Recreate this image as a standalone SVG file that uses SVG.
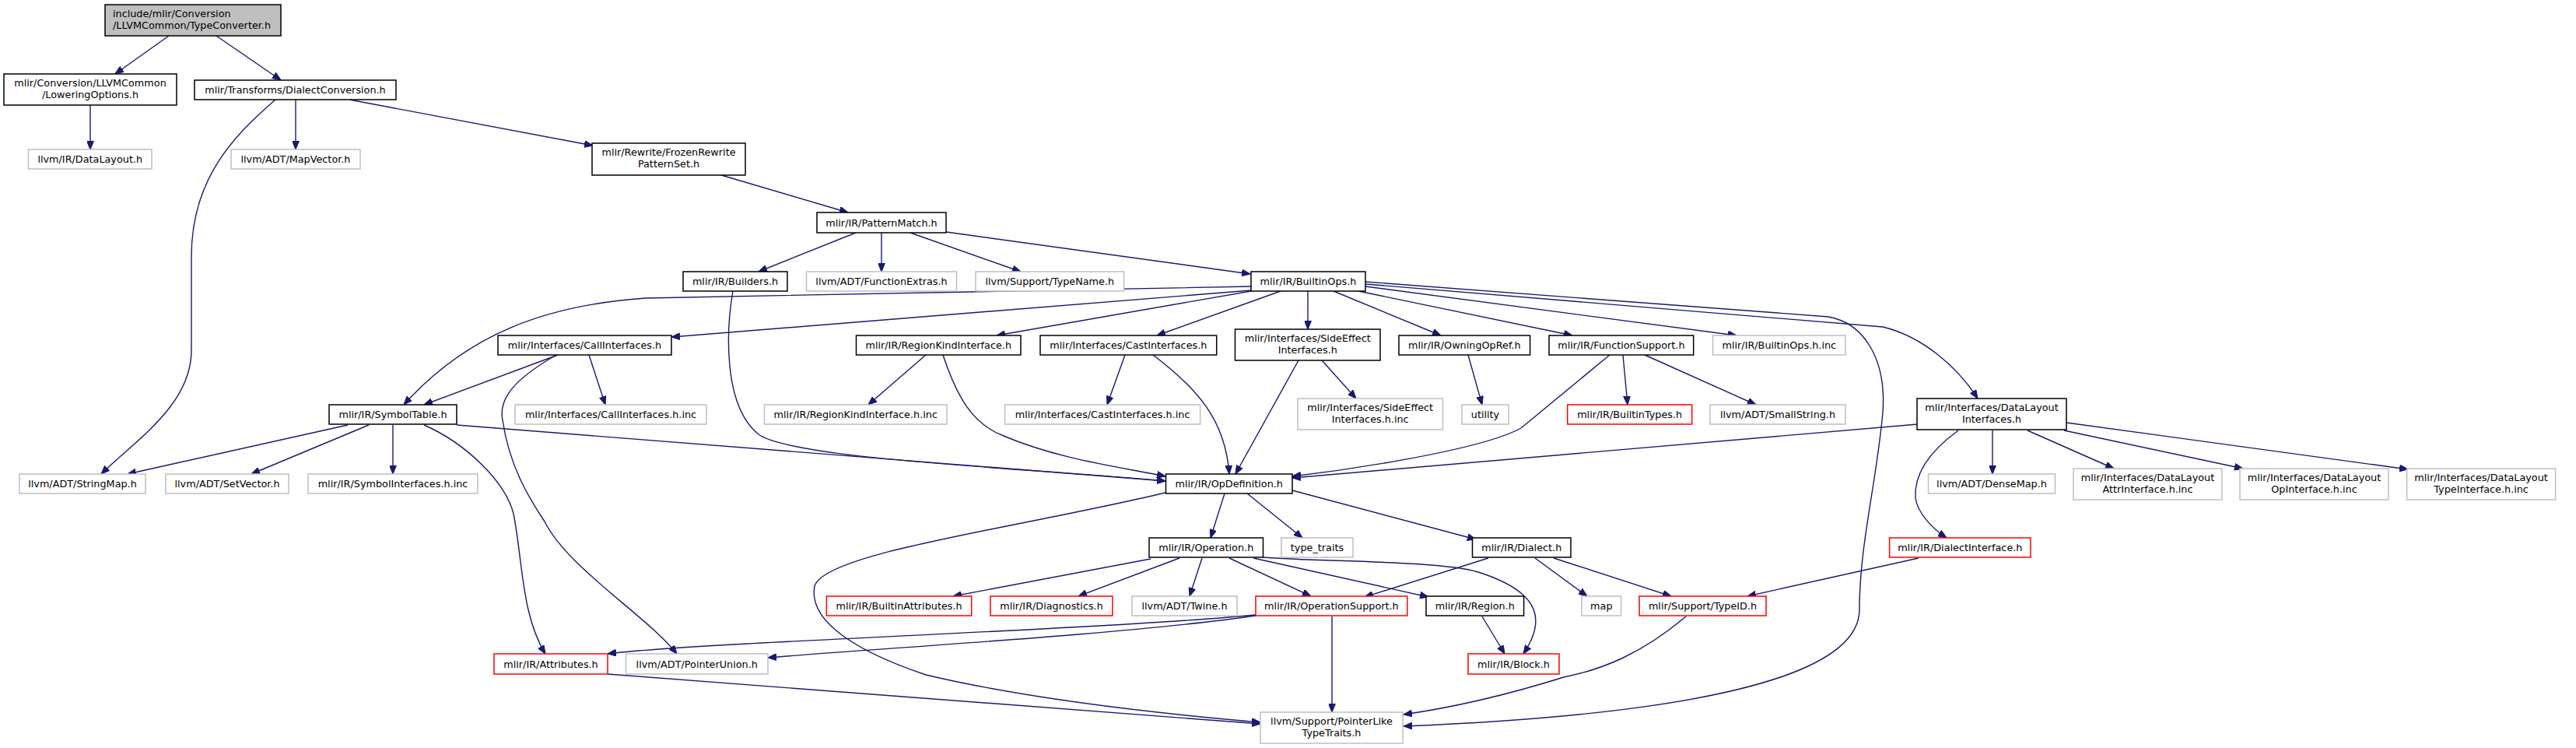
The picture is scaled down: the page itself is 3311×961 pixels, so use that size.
<svg xmlns="http://www.w3.org/2000/svg" width="3311" height="961" viewBox="0 0 3311 961">
<style>
.n rect{fill:#fff;stroke-width:1.5}
.b rect{stroke:#000}
.g rect{stroke:#bfbfbf}
.r rect{stroke:#ff0000}
.root rect{fill:#bfbfbf;stroke:#000}
text{font-family:"DejaVu Sans","Liberation Sans",sans-serif;font-size:12.8px;fill:#000;text-anchor:middle}
.root text{text-anchor:start}
#edges path{fill:none;stroke:#191970;stroke-width:1.4;marker-end:url(#arr)}
</style>
<defs>
<marker id="arr" viewBox="0 0 10 8" refX="10" refY="4" markerWidth="11" markerHeight="9" markerUnits="userSpaceOnUse" orient="auto">
<path d="M0,0 L10,4 L0,8 z" fill="#191970" stroke="#191970"/>
</marker>
</defs>
<rect width="3311" height="961" fill="#fff"/>
<g id="edges">
<path d="M217,46 L148,95"/>
<path d="M278,46 L361,103"/>
<path d="M116,135 L116,192"/>
<path d="M380,128 L380,192"/>
<path d="M449,128 L762,187"/>
<path d="M354,128 C300,175 246,230 246,330 L246,450 C246,520 175,565 130,609"/>
<path d="M927,225 L1090,273"/>
<path d="M1100,299 L975,349"/>
<path d="M1133,299 L1133,349"/>
<path d="M1170,299 L1312,349"/>
<path d="M1216,298 L1607,352"/>
<path d="M942,374 C934,420 928,520 975,558 C1020,590 1300,600 1498,618"/>
<path d="M1608,368 L830,383 C700,392 600,430 519,520"/>
<path d="M1608,373 L863,433"/>
<path d="M1608,374 L1281,431"/>
<path d="M1646,374 L1487,431"/>
<path d="M1681,374 L1681,423"/>
<path d="M1714,374 L1852,431"/>
<path d="M1746,374 L2021,431"/>
<path d="M1755,368 L2232,431"/>
<path d="M1755,365 L2420,420 C2470,432 2515,470 2542,512"/>
<path d="M1755,362 L2350,407 C2395,415 2425,460 2420,530 C2412,620 2390,700 2390,783 C2390,900 2000,925 1804,933"/>
<path d="M717,456 L545,520"/>
<path d="M757,456 L778,520"/>
<path d="M715,456 C665,485 640,510 646,540 C655,600 680,640 700,670 C730,730 830,790 870,840"/>
<path d="M447,546 L164,609"/>
<path d="M474,546 L323,609"/>
<path d="M505,546 L505,609"/>
<path d="M587,546 L1498,618"/>
<path d="M545,546 C600,570 650,620 660,660 C672,720 670,790 701,840"/>
<path d="M1190,456 L1116,520"/>
<path d="M1212,456 C1230,510 1250,545 1290,560 C1360,590 1440,600 1498,612"/>
<path d="M1446,456 L1423,520"/>
<path d="M1482,456 C1540,500 1575,540 1580,609"/>
<path d="M1669,463 L1588,609"/>
<path d="M1699,463 L1743,512"/>
<path d="M1887,456 L1905,520"/>
<path d="M2069,456 L1955,550 C1900,580 1720,605 1661,612"/>
<path d="M2086,456 L2092,520"/>
<path d="M2114,456 L2257,520"/>
<path d="M2465,545 L1661,614"/>
<path d="M2561,553 L2561,609"/>
<path d="M2606,553 L2717,602"/>
<path d="M2653,553 L2883,602"/>
<path d="M2656,543 L3095,603"/>
<path d="M2517,553 C2480,580 2460,610 2462,640 C2465,660 2485,680 2502,691"/>
<path d="M2466,717 L2246,766"/>
<path d="M1574,634 L1556,691"/>
<path d="M1603,634 L1674,691"/>
<path d="M1661,630 L1897,693"/>
<path d="M1498,633 C1300,680 1060,710 1047,753 C1040,790 1080,830 1190,867 C1350,905 1550,922 1620,928"/>
<path d="M1479,718 L1225,766"/>
<path d="M1516,717 L1386,766"/>
<path d="M1545,717 L1529,766"/>
<path d="M1580,717 L1685,766"/>
<path d="M1611,717 L1836,767"/>
<path d="M1623,716 C1700,722 1850,720 1900,735 C1985,762 1985,800 1958,840"/>
<path d="M1913,717 L1754,767"/>
<path d="M1973,717 L2040,766"/>
<path d="M1997,717 L2148,766"/>
<path d="M1905,792 L1934,840"/>
<path d="M1614,790 C1400,810 900,825 781,840"/>
<path d="M1614,791 C1450,815 1100,835 987,845"/>
<path d="M1712,792 L1712,915"/>
<path d="M2167,792 C2110,840 2060,860 2010,870 C1930,895 1860,910 1804,918"/>
<path d="M781,866 L1620,930"/>
</g>
<g id="n_root" class="n root"><rect x="135" y="6" width="226" height="40"/><text x="145" y="21.5">include/mlir/Conversion</text><text x="145" y="36.5">/LLVMCommon/TypeConverter.h</text></g>
<g id="n_lowering" class="n b"><rect x="5" y="95" width="222" height="40"/><text x="116" y="110.5">mlir/Conversion/LLVMCommon</text><text x="116" y="125.5">/LoweringOptions.h</text></g>
<g id="n_dialectconv" class="n b"><rect x="250" y="103" width="259" height="25"/><text x="379.5" y="120">mlir/Transforms/DialectConversion.h</text></g>
<g id="n_datalayout" class="n g"><rect x="36.5" y="192" width="158.5" height="25"/><text x="115.75" y="209">llvm/IR/DataLayout.h</text></g>
<g id="n_mapvector" class="n g"><rect x="297" y="192" width="166" height="25"/><text x="380" y="209">llvm/ADT/MapVector.h</text></g>
<g id="n_frozen" class="n b"><rect x="761" y="184" width="197" height="41"/><text x="859.5" y="200">mlir/Rewrite/FrozenRewrite</text><text x="859.5" y="215">PatternSet.h</text></g>
<g id="n_patternmatch" class="n b"><rect x="1050" y="273" width="166" height="26"/><text x="1133" y="290.5">mlir/IR/PatternMatch.h</text></g>
<g id="n_builders" class="n b"><rect x="878" y="349" width="134" height="25"/><text x="945" y="366">mlir/IR/Builders.h</text></g>
<g id="n_funcextras" class="n g"><rect x="1036.5" y="349" width="193" height="25"/><text x="1133" y="366">llvm/ADT/FunctionExtras.h</text></g>
<g id="n_typename" class="n g"><rect x="1254" y="349" width="190.6" height="25"/><text x="1349.3" y="366">llvm/Support/TypeName.h</text></g>
<g id="n_builtinops" class="n b"><rect x="1608" y="349" width="147" height="25"/><text x="1681.5" y="366">mlir/IR/BuiltinOps.h</text></g>
<g id="n_callif" class="n b"><rect x="640" y="431" width="223" height="25"/><text x="751.5" y="448">mlir/Interfaces/CallInterfaces.h</text></g>
<g id="n_regionkind" class="n b"><rect x="1100.5" y="431" width="211.5" height="25"/><text x="1206.25" y="448">mlir/IR/RegionKindInterface.h</text></g>
<g id="n_castif" class="n b"><rect x="1337" y="431" width="226.7" height="25"/><text x="1450.35" y="448">mlir/Interfaces/CastInterfaces.h</text></g>
<g id="n_sideeffect" class="n b"><rect x="1587.5" y="423" width="186.5" height="40"/><text x="1680.75" y="438.5">mlir/Interfaces/SideEffect</text><text x="1680.75" y="453.5">Interfaces.h</text></g>
<g id="n_owningopref" class="n b"><rect x="1798" y="431" width="168.6" height="25"/><text x="1882.3" y="448">mlir/IR/OwningOpRef.h</text></g>
<g id="n_funcsupport" class="n b"><rect x="1991" y="431" width="185.7" height="25"/><text x="2083.85" y="448">mlir/IR/FunctionSupport.h</text></g>
<g id="n_builtinopsinc" class="n g"><rect x="2201.6" y="431" width="170.4" height="25"/><text x="2286.8" y="448">mlir/IR/BuiltinOps.h.inc</text></g>
<g id="n_symboltable" class="n b"><rect x="423" y="520" width="164" height="25"/><text x="505" y="537">mlir/IR/SymbolTable.h</text></g>
<g id="n_callifinc" class="n g"><rect x="662" y="520" width="246" height="25"/><text x="785" y="537">mlir/Interfaces/CallInterfaces.h.inc</text></g>
<g id="n_regionkindinc" class="n g"><rect x="982.5" y="520" width="234.5" height="25"/><text x="1099.75" y="537">mlir/IR/RegionKindInterface.h.inc</text></g>
<g id="n_castifinc" class="n g"><rect x="1291.6" y="520" width="251" height="25"/><text x="1417.1" y="537">mlir/Interfaces/CastInterfaces.h.inc</text></g>
<g id="n_sideeffectinc" class="n g"><rect x="1668" y="512" width="186.4" height="40"/><text x="1761.2" y="527.5">mlir/Interfaces/SideEffect</text><text x="1761.2" y="542.5">Interfaces.h.inc</text></g>
<g id="n_utility" class="n g"><rect x="1879" y="520" width="60" height="25"/><text x="1909" y="537">utility</text></g>
<g id="n_builtintypes" class="n r"><rect x="2014.7" y="520" width="160" height="25"/><text x="2094.7" y="537">mlir/IR/BuiltinTypes.h</text></g>
<g id="n_smallstring" class="n g"><rect x="2198" y="520" width="174" height="25"/><text x="2285" y="537">llvm/ADT/SmallString.h</text></g>
<g id="n_dlif" class="n b"><rect x="2464" y="512" width="192" height="40"/><text x="2560" y="527.5">mlir/Interfaces/DataLayout</text><text x="2560" y="542.5">Interfaces.h</text></g>
<g id="n_stringmap" class="n g"><rect x="25" y="609" width="162" height="25"/><text x="106" y="626">llvm/ADT/StringMap.h</text></g>
<g id="n_setvector" class="n g"><rect x="213" y="609" width="158" height="25"/><text x="292" y="626">llvm/ADT/SetVector.h</text></g>
<g id="n_symbolifinc" class="n g"><rect x="396" y="609" width="218" height="25"/><text x="505" y="626">mlir/IR/SymbolInterfaces.h.inc</text></g>
<g id="n_opdef" class="n b"><rect x="1498.5" y="609" width="162.5" height="25"/><text x="1579.75" y="626">mlir/IR/OpDefinition.h</text></g>
<g id="n_densemap" class="n g"><rect x="2478.5" y="609" width="163" height="25"/><text x="2560" y="626">llvm/ADT/DenseMap.h</text></g>
<g id="n_dlattr" class="n g"><rect x="2665" y="602" width="191" height="40"/><text x="2760.5" y="617.5">mlir/Interfaces/DataLayout</text><text x="2760.5" y="632.5">AttrInterface.h.inc</text></g>
<g id="n_dlop" class="n g"><rect x="2879" y="602" width="191" height="40"/><text x="2974.5" y="617.5">mlir/Interfaces/DataLayout</text><text x="2974.5" y="632.5">OpInterface.h.inc</text></g>
<g id="n_dltype" class="n g"><rect x="3093.6" y="602" width="191" height="40"/><text x="3189.1" y="617.5">mlir/Interfaces/DataLayout</text><text x="3189.1" y="632.5">TypeInterface.h.inc</text></g>
<g id="n_operation" class="n b"><rect x="1477" y="691" width="146.5" height="25"/><text x="1550.25" y="708">mlir/IR/Operation.h</text></g>
<g id="n_typetraits" class="n g"><rect x="1647" y="691" width="92" height="25"/><text x="1693" y="708">type_traits</text></g>
<g id="n_dialect" class="n b"><rect x="1892.5" y="691" width="126.5" height="25"/><text x="1955.75" y="708">mlir/IR/Dialect.h</text></g>
<g id="n_dialectif" class="n r"><rect x="2428.6" y="691" width="181.4" height="25"/><text x="2519.3" y="708">mlir/IR/DialectInterface.h</text></g>
<g id="n_builtinattrs" class="n r"><rect x="1062.4" y="766" width="186.3" height="25"/><text x="1155.55" y="783">mlir/IR/BuiltinAttributes.h</text></g>
<g id="n_diagnostics" class="n r"><rect x="1273" y="766" width="157" height="25"/><text x="1351.5" y="783">mlir/IR/Diagnostics.h</text></g>
<g id="n_twine" class="n g"><rect x="1455" y="766" width="135" height="25"/><text x="1522.5" y="783">llvm/ADT/Twine.h</text></g>
<g id="n_opsupport" class="n r"><rect x="1614" y="766" width="194.8" height="25"/><text x="1711.4" y="783">mlir/IR/OperationSupport.h</text></g>
<g id="n_region" class="n b"><rect x="1833" y="766" width="125.6" height="25"/><text x="1895.8" y="783">mlir/IR/Region.h</text></g>
<g id="n_map" class="n g"><rect x="2033" y="766" width="50.6" height="25"/><text x="2058.3" y="783">map</text></g>
<g id="n_typeid" class="n r"><rect x="2107" y="766" width="163" height="25"/><text x="2188.5" y="783">mlir/Support/TypeID.h</text></g>
<g id="n_attributes" class="n r"><rect x="635" y="840" width="146" height="26"/><text x="708" y="857.5">mlir/IR/Attributes.h</text></g>
<g id="n_pointerunion" class="n g"><rect x="804.5" y="840" width="182.5" height="26"/><text x="895.75" y="857.5">llvm/ADT/PointerUnion.h</text></g>
<g id="n_block" class="n r"><rect x="1887" y="840" width="117" height="26"/><text x="1945.5" y="857.5">mlir/IR/Block.h</text></g>
<g id="n_pointerlike" class="n g"><rect x="1620" y="915" width="183" height="40"/><text x="1711.5" y="930.5">llvm/Support/PointerLike</text><text x="1711.5" y="945.5">TypeTraits.h</text></g>
</svg>
